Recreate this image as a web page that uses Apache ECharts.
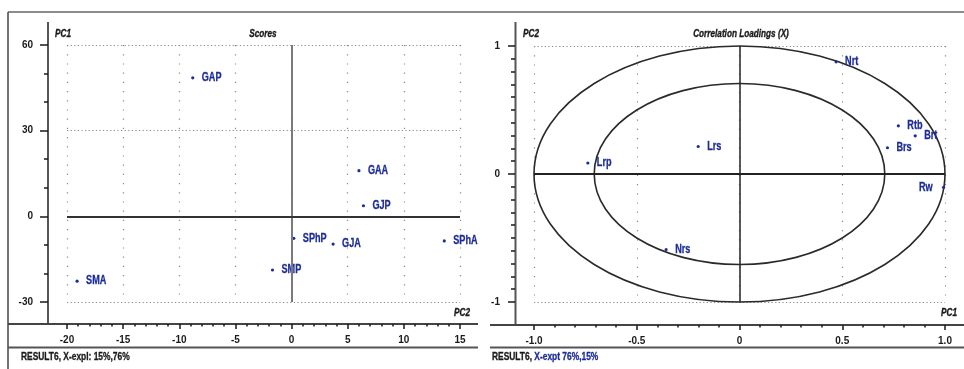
<!DOCTYPE html>
<html>
<head>
<meta charset="utf-8">
<script src="https://cdn.jsdelivr.net/npm/echarts@6/dist/echarts.min.js"></script>
<style>
  html, body { margin: 0; padding: 0; background: #fff; }
  #chart { width: 964px; height: 369px; }
</style>
</head>
<body>
<div id="chart"></div>
<script>
// ---- Scores (left panel): PC2 on x, PC1 on y ----
const scoreNames = ['GAP', 'GAA', 'GJP', 'SPhP', 'GJA', 'SPhA', 'SMP', 'SMA'];
const scorePC2   = [-8.8, 6.0, 6.4, 0.2, 3.7, 13.6, -1.7, -19.1];
const scorePC1   = [48.5, 16.0, 3.7, -7.7, -9.7, -8.6, -18.8, -22.7];
const scoreXTicks = [-20, -15, -10, -5, 0, 5, 10, 15];
const scoreYTicks = [-30, 0, 30, 60];

// ---- Correlation loadings (right panel): PC1 on x, PC2 on y ----
const loadNames = ['Nrt', 'Rtb', 'Brt', 'Brs', 'Lrs', 'Lrp', 'Rw', 'Nrs'];
const loadPC1   = [0.47, 0.773, 0.855, 0.72, -0.201, -0.738, 0.993, -0.357];
const loadPC2   = [0.876, 0.376, 0.298, 0.205, 0.215, 0.086, -0.104, -0.59];
const loadXTicks = ['-1.0', '-0.5', '0', '0.5', '1.0'];
const loadYTicks = ['-1', '0', '1'];
const circleRadii = [1, 0.707];
const labelsOnLeft = ['Rw'];

const FONT = "'Liberation Sans Narrow','Arial Narrow','Liberation Sans',sans-serif";
const BLUE = '#1c2c98';
const DARK = '#1a1a1a';
const GRIDC = '#8a8a8a';

const chart = echarts.init(document.getElementById('chart'), null, { renderer: 'canvas' });

const axisLabelStyle = { color: DARK, fontFamily: FONT, fontWeight: 'bold', fontSize: 10 };
const tickStyle = { color: DARK, width: 1.5 };

// labelled point renderer: dot + condensed label (through axis coords)
function makePointRenderer(names) {
  return function (params, api) {
    const p = api.coord([api.value(0), api.value(1)]);
    const name = names[params.dataIndex];
    const left = labelsOnLeft.indexOf(name) >= 0;
    return {
      type: 'group',
      children: [
        { type: 'circle', shape: { cx: p[0], cy: p[1], r: 1.6 }, style: { fill: BLUE } },
        {
          type: 'text', x: left ? p[0] - 11 : p[0] + 9, y: p[1], scaleX: 0.76,
          style: {
            text: name, fill: BLUE, stroke: BLUE, lineWidth: 0.3,
            font: 'bold 12px ' + FONT,
            textAlign: left ? 'right' : 'left', textVerticalAlign: 'middle'
          }
        }
      ]
    };
  };
}

function title(x, y, text, align) {
  return {
    type: 'text', x: x, y: y, scaleX: 0.82,
    style: { text: text, textAlign: align || 'left', fill: DARK, stroke: DARK, lineWidth: 0.35, font: 'italic bold 10px ' + FONT }
  };
}

const option = {
  animation: false,
  backgroundColor: '#fff',
  grid: [
    { left: 67, top: 45, width: 393, height: 257 },
    { left: 534, top: 46, width: 411, height: 256 }
  ],
  xAxis: [
    {
      gridIndex: 0, type: 'value', min: -20, max: 15, interval: 5,
      position: 'bottom', offset: 22,
      axisLine: { show: false, onZero: false },
      axisTick: { show: true, length: 5, lineStyle: tickStyle },
      minorTick: { show: true, splitNumber: 5, length: 2.5, lineStyle: tickStyle },
      axisLabel: Object.assign({ margin: 11, formatter: v => scoreXTicks.includes(v) ? String(v) : '' }, axisLabelStyle),
      splitLine: { show: true, lineStyle: { color: GRIDC, width: 1.2, type: [1.2, 8] } }
    },
    {
      gridIndex: 1, type: 'value', min: -1, max: 1, interval: 0.5,
      position: 'bottom', offset: 23,
      axisLine: { show: false, onZero: false },
      axisTick: { show: true, length: 5, lineStyle: tickStyle },
      minorTick: { show: true, splitNumber: 5, length: 2.5, lineStyle: tickStyle },
      axisLabel: Object.assign({ margin: 11, formatter: v => loadXTicks[Math.round((v + 1) / 0.5)] }, axisLabelStyle),
      splitLine: { show: true, lineStyle: { color: GRIDC, width: 1.2, type: [1.2, 8] } }
    }
  ],
  yAxis: [
    {
      gridIndex: 0, type: 'value', min: -30, max: 60, interval: 30,
      position: 'left', offset: 19,
      axisLine: { show: false, onZero: false },
      axisTick: { show: true, length: 8, lineStyle: tickStyle },
      minorTick: { show: true, splitNumber: 3, length: 4, lineStyle: tickStyle },
      axisLabel: Object.assign({ margin: 15, formatter: v => scoreYTicks.includes(v) ? String(v) : '' }, axisLabelStyle),
      splitLine: { show: true, lineStyle: { color: GRIDC, width: 1.2, type: [1.2, 2.4] } }
    },
    {
      gridIndex: 1, type: 'value', min: -1, max: 1, interval: 1,
      position: 'left', offset: 19,
      axisLine: { show: false, onZero: false },
      axisTick: { show: true, length: 7, lineStyle: tickStyle },
      minorTick: { show: true, splitNumber: 10, length: 4, lineStyle: tickStyle },
      axisLabel: Object.assign({ margin: 15, formatter: v => loadYTicks[Math.round(v + 1)] }, axisLabelStyle),
      splitLine: { show: true, lineStyle: { color: GRIDC, width: 1.2, type: [1.2, 2.4] } }
    }
  ],
  series: [
    {
      type: 'scatter', xAxisIndex: 0, yAxisIndex: 0, data: [], silent: true,
      markLine: {
        silent: true, symbol: 'none', label: { show: false }, animation: false,
        data: [
          { xAxis: 0, lineStyle: { color: '#7a7a7a', width: 2, type: 'solid' } },
          { yAxis: 0, lineStyle: { color: '#333', width: 2, type: 'solid' } }
        ]
      }
    },
    {
      name: 'Scores', type: 'custom', xAxisIndex: 0, yAxisIndex: 0, clip: false,
      renderItem: makePointRenderer(scoreNames),
      encode: { x: 0, y: 1 },
      data: scorePC2.map((v, i) => [v, scorePC1[i]])
    },
    {
      type: 'custom', xAxisIndex: 1, yAxisIndex: 1, silent: true, clip: false,
      encode: { x: 0, y: 1 },
      data: circleRadii.map(r => [0, 0, r]),
      renderItem: function (params, api) {
        const c = api.coord([api.value(0), api.value(1)]);
        const s = api.size([api.value(2), api.value(2)]);
        return {
          type: 'ellipse',
          shape: { cx: c[0], cy: c[1], rx: s[0], ry: s[1] },
          style: { fill: 'none', stroke: '#2a2a2a', lineWidth: 1.6 }
        };
      }
    },
    {
      type: 'scatter', xAxisIndex: 1, yAxisIndex: 1, data: [], silent: true,
      markLine: {
        silent: true, symbol: 'none', label: { show: false }, animation: false,
        data: [
          { xAxis: 0, lineStyle: { color: '#222', width: 1.5, type: 'solid' } },
          { yAxis: 0, lineStyle: { color: '#222', width: 2, type: 'solid' } }
        ]
      }
    },
    {
      name: 'Loadings', type: 'custom', xAxisIndex: 1, yAxisIndex: 1, clip: false,
      renderItem: makePointRenderer(loadNames),
      encode: { x: 0, y: 1 },
      data: loadPC1.map((v, i) => [v, loadPC2[i]])
    }
  ],
  graphic: [
    { type: 'line', shape: { x1: 8, y1: 12, x2: 964, y2: 12 }, style: { stroke: '#666', lineWidth: 1.5 }, silent: true },
    { type: 'line', shape: { x1: 8, y1: 12, x2: 8, y2: 369 }, style: { stroke: '#444', lineWidth: 1.5 }, silent: true },
    { type: 'line', shape: { x1: 48, y1: 22, x2: 48, y2: 324 }, style: { stroke: '#555', lineWidth: 2 }, silent: true },
    { type: 'line', shape: { x1: 8, y1: 324, x2: 478, y2: 324 }, style: { stroke: '#444', lineWidth: 2 }, silent: true },
    { type: 'line', shape: { x1: 8, y1: 347.5, x2: 478, y2: 347.5 }, style: { stroke: '#555', lineWidth: 2 }, silent: true },
    { type: 'line', shape: { x1: 515.5, y1: 22, x2: 515.5, y2: 325 }, style: { stroke: '#555', lineWidth: 2 }, silent: true },
    { type: 'line', shape: { x1: 490, y1: 325, x2: 964, y2: 325 }, style: { stroke: '#444', lineWidth: 2 }, silent: true },
    { type: 'line', shape: { x1: 490, y1: 347.5, x2: 964, y2: 347.5 }, style: { stroke: '#555', lineWidth: 2 }, silent: true },
    title(55, 29, 'PC1'),
    title(263, 29, 'Scores', 'center'),
    title(454, 308, 'PC2'),
    title(523, 29, 'PC2'),
    title(741, 29, 'Correlation Loadings (X)', 'center'),
    title(941, 308, 'PC1'),
    {
      type: 'text', x: 21, y: 352, scaleX: 0.84,
      style: { text: 'RESULT6, X-expl: 15%,76%', fill: DARK, stroke: DARK, lineWidth: 0.3, font: 'bold 10px ' + FONT }
    },
    {
      type: 'text', x: 492, y: 352, scaleX: 0.84,
      style: {
        text: '{a|RESULT6, }{b|X-expt 76%,15%}',
        rich: {
          a: { fill: DARK, stroke: DARK, lineWidth: 0.3, font: 'bold 10px ' + FONT },
          b: { fill: BLUE, stroke: BLUE, lineWidth: 0.3, font: 'bold 10px ' + FONT }
        }
      }
    }
  ]
};

chart.setOption(option);
</script>
</body>
</html>
